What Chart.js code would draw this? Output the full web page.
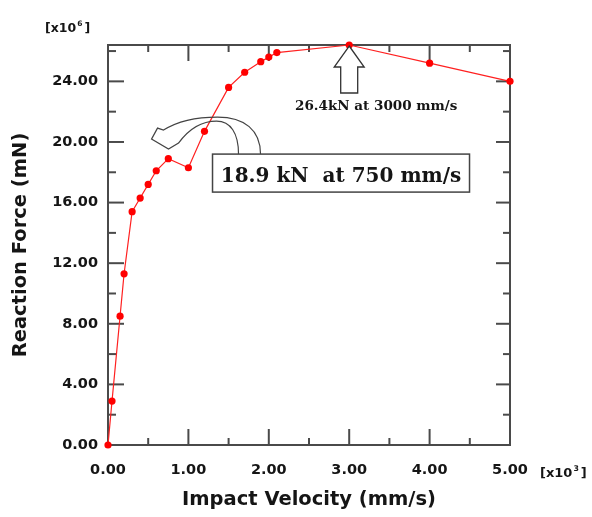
<!DOCTYPE html>
<html>
<head>
<meta charset="utf-8">
<script src="https://cdn.jsdelivr.net/npm/chart.js@4.4.0/dist/chart.umd.min.js"></script>
<style>
  html, body { margin: 0; padding: 0; background: #fff; }
  #wrap { width: 592px; height: 517px; }
</style>
</head>
<body>
<div id="wrap"><canvas id="forceChart" width="592" height="517"></canvas></div>
<script>
// impact velocity [x10^3 mm/s]
const velocity = [0, 0.05, 0.15, 0.2, 0.3, 0.4, 0.5, 0.6, 0.75, 1.0, 1.2, 1.5, 1.7, 1.9, 2.0, 2.1, 3.0, 4.0, 5.0];
// reaction force [x10^6 mN]
const force = [0, 2.9, 8.5, 11.3, 15.4, 16.3, 17.2, 18.1, 18.9, 18.3, 20.7, 23.6, 24.6, 25.3, 25.6, 25.9, 26.4, 25.2, 24.0];

const xRange = [0, 5];
const yRange = [0, 26.4];
const xStep = 1;
const yStep = 4;

const peakNote = '26.4kN at 3000 mm/s';
const dipNote = '18.9 kN  at 750 mm/s';
const dipBoxAt = [1.3, 19.2]; // top-left corner of the note box, data units

const SANS = '"DejaVu Sans", sans-serif';
const SERIF = '"DejaVu Serif", serif';
const INK = '#151515';
const FRAME = '#4a4a4a';

// "[x10^n]" with a raised exponent
function drawSci(ctx, exp, x, y, size) {
  ctx.fillStyle = INK;
  ctx.textAlign = 'left';
  ctx.textBaseline = 'alphabetic';
  ctx.font = `bold ${size}px ${SANS}`;
  ctx.fillText('[x10', x, y);
  let w = ctx.measureText('[x10').width;
  ctx.font = `bold ${size * 0.6}px ${SANS}`;
  ctx.fillText(exp, x + w + 1, y - size * 0.45);
  w += ctx.measureText(exp).width + 3;
  ctx.font = `bold ${size}px ${SANS}`;
  ctx.fillText(']', x + w, y);
}

function line(ctx, x1, y1, x2, y2) {
  ctx.beginPath();
  ctx.moveTo(x1, y1);
  ctx.lineTo(x2, y2);
  ctx.stroke();
}

// box frame + inward ticks on all four sides
const frameTicks = {
  id: 'frameTicks',
  beforeDatasetsDraw(chart) {
    const { ctx, chartArea: a, scales: { x, y } } = chart;
    ctx.save();
    ctx.strokeStyle = FRAME;
    ctx.lineWidth = 2;
    ctx.strokeRect(a.left, a.top, a.right - a.left, a.bottom - a.top);

    x.ticks.forEach(t => {
      const p = x.getPixelForValue(t.value);
      line(ctx, p, a.bottom, p, a.bottom - 16);
      line(ctx, p, a.top, p, a.top + 16);
    });
    for (let v = xStep / 2; v < xRange[1]; v += xStep) {
      const p = x.getPixelForValue(v);
      line(ctx, p, a.bottom, p, a.bottom - 7);
      line(ctx, p, a.top, p, a.top + 7);
    }

    y.ticks.forEach(t => {
      const p = y.getPixelForValue(t.value);
      line(ctx, a.left, p, a.left + 16, p);
      line(ctx, a.right, p, a.right - 14, p);
    });
    for (let v = yStep / 2; v < yRange[1]; v += yStep) {
      const p = y.getPixelForValue(v);
      line(ctx, a.left, p, a.left + 8, p);
      line(ctx, a.right, p, a.right - 7, p);
    }
    ctx.restore();
  },
  afterDatasetsDraw(chart) {
    const { ctx, chartArea: a, scales: { x, y } } = chart;
    ctx.save();

    // axis multipliers
    drawSci(ctx, '6', a.left - 63, a.top - 13, 12.5);
    drawSci(ctx, '3', a.right + 30, a.bottom + 32, 13);

    // peak arrow
    const iPeak = force.indexOf(Math.max(...force));
    const px = x.getPixelForValue(velocity[iPeak]);
    const py = y.getPixelForValue(force[iPeak]) + 1;
    ctx.strokeStyle = '#333';
    ctx.lineWidth = 1.3;
    ctx.fillStyle = '#fff';
    ctx.beginPath();
    ctx.moveTo(px, py);
    ctx.lineTo(px + 15, py + 21);
    ctx.lineTo(px + 8.5, py + 21);
    ctx.lineTo(px + 8.5, py + 47);
    ctx.lineTo(px - 8.5, py + 47);
    ctx.lineTo(px - 8.5, py + 21);
    ctx.lineTo(px - 15, py + 21);
    ctx.closePath();
    ctx.fill();
    ctx.stroke();

    ctx.fillStyle = INK;
    ctx.font = `bold 13.5px ${SERIF}`;
    ctx.textAlign = 'center';
    ctx.textBaseline = 'alphabetic';
    ctx.fillText(peakNote, px + 27, py + 64);

    // note box for the 750 mm/s dip
    const bx = x.getPixelForValue(dipBoxAt[0]);
    const by = y.getPixelForValue(dipBoxAt[1]);
    const bw = 257, bh = 38;
    ctx.fillStyle = '#fff';
    ctx.fillRect(bx, by, bw, bh);
    ctx.strokeStyle = '#444';
    ctx.lineWidth = 1.5;
    ctx.strokeRect(bx, by, bw, bh);
    ctx.fillStyle = INK;
    ctx.font = `bold 20px ${SERIF}`;
    ctx.fillText(dipNote, bx + bw / 2, by + 28);

    // curved block arrow from the box toward the dip
    ctx.strokeStyle = '#444';
    ctx.lineWidth = 1.2;
    ctx.beginPath();
    ctx.moveTo(bx + 48, by);
    ctx.bezierCurveTo(bx + 48, by - 24, bx + 32, by - 37, bx + 5, by - 37);
    ctx.bezierCurveTo(bx - 20, by - 37, bx - 38, by - 31, bx - 49, by - 24);
    ctx.lineTo(bx - 55, by - 26);
    ctx.lineTo(bx - 61, by - 15);
    ctx.lineTo(bx - 44, by - 5);
    ctx.lineTo(bx - 34, by - 11);
    ctx.bezierCurveTo(bx - 26, by - 22, bx - 14, by - 33, bx + 4, by - 33);
    ctx.bezierCurveTo(bx + 18, by - 33, bx + 26, by - 21, bx + 26, by);
    ctx.stroke();

    ctx.restore();
  }
};

const points = velocity.map((v, i) => ({ x: v, y: force[i] }));

new Chart(document.getElementById('forceChart'), {
  type: 'line',
  data: {
    datasets: [{
      data: points,
      borderColor: '#ff2020',
      borderWidth: 1.2,
      pointRadius: 3.6,
      pointBackgroundColor: '#ff0000',
      pointBorderWidth: 0,
      tension: 0,
      clip: false
    }]
  },
  options: {
    responsive: false,
    animation: false,
    layout: { padding: { top: 45, right: 82, bottom: 0, left: 0 } },
    plugins: { legend: { display: false }, tooltip: { enabled: false } },
    scales: {
      x: {
        type: 'linear',
        min: xRange[0],
        max: xRange[1],
        afterFit(s) { s.height = 72; },
        grid: { display: false, drawTicks: false },
        border: { display: false },
        ticks: {
          stepSize: xStep,
          padding: 17,
          color: INK,
          font: { family: SANS, size: 14.5, weight: 'bold' },
          callback: v => Number(v).toFixed(2)
        },
        title: {
          display: true,
          text: 'Impact Velocity (mm/s)',
          color: INK,
          font: { family: SANS, size: 19.5, weight: 'bold' },
          padding: { top: 0, bottom: 5 }
        }
      },
      y: {
        min: yRange[0],
        max: yRange[1],
        afterFit(s) { s.width = 108; },
        grid: { display: false, drawTicks: false },
        border: { display: false },
        ticks: {
          stepSize: yStep,
          includeBounds: false,
          padding: 10,
          color: INK,
          font: { family: SANS, size: 14.5, weight: 'bold' },
          callback: v => Number(v).toFixed(2)
        },
        title: {
          display: true,
          text: 'Reaction Force (mN)',
          color: INK,
          font: { family: SANS, size: 19.5, weight: 'bold' },
          padding: { top: 9, bottom: 0 }
        }
      }
    }
  },
  plugins: [frameTicks]
});
</script>
</body>
</html>
